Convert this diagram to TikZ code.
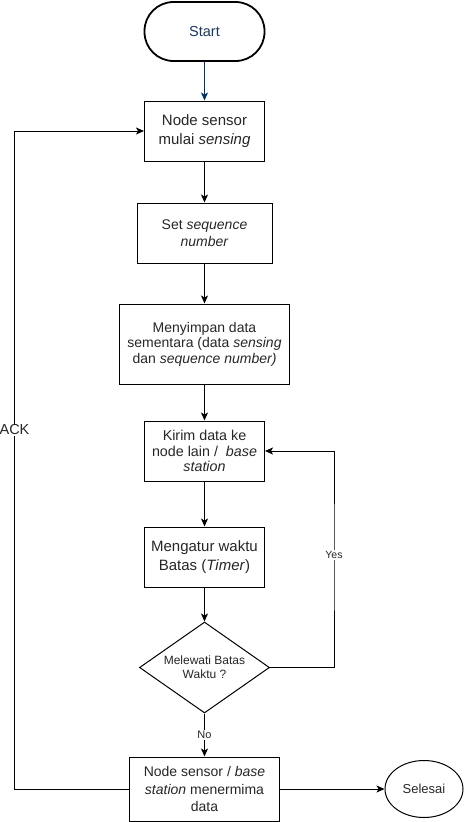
\documentclass[tikz,border=0pt]{standalone}
\usepackage{fontspec}
\setmainfont{Liberation Sans}
\usetikzlibrary{arrows.meta,shapes.geometric}
\definecolor{startnavy}{RGB}{28,54,92}
\definecolor{linknavy}{RGB}{0,51,102}
\begin{document}
\begin{tikzpicture}[x=1pt,y=-1pt,
      stepbox/.style={draw,line width=1pt,text=black!85,align=center,inner sep=2pt,
        font=\fontsize{14}{16}\selectfont},
      link/.style={line width=1pt,-{Stealth[length=8pt,width=7pt,inset=2pt]}},
      tag/.style={fill=white,inner sep=1pt,text=black!85}]
      \useasboundingbox (0,0) rectangle (465,822);
      \path (204.5,31.5) node[draw,line width=1.8pt,rounded corners=29pt,minimum width=120pt,
        minimum height=59pt,text=startnavy,font=\fontsize{14.5}{17}\selectfont] (start) {Start};
      \path (204.5,131) node[stepbox,minimum width=120pt,minimum height=60pt,
        font=\fontsize{15}{18.3}\selectfont] (sense) {Node sensor\\ mulai \textit{sensing}};
      \path (204.5,233) node[stepbox,minimum width=135pt,minimum height=60pt,
        font=\fontsize{14}{16.7}\selectfont] (seqnum) {Set \textit{sequence}\\ \textit{number}};
      \path (204.5,344) node[stepbox,minimum width=170pt,minimum height=80pt,
        font=\fontsize{14}{15.4}\selectfont] (store)
        {Menyimpan data\\ sementara (data \textit{sensing}\\ dan \textit{sequence number)}};
      \path (204.5,451) node[stepbox,minimum width=120pt,minimum height=60pt,
        font=\fontsize{14.3}{15.5}\selectfont] (send)
        {Kirim data ke\\ node lain / \ \textit{base}\\ \textit{station}};
      \path (204.5,557) node[stepbox,minimum width=120pt,minimum height=60pt,
        font=\fontsize{15}{18.3}\selectfont] (timer) {Mengatur waktu\\ Batas (\textit{Timer})};
      \path (204.5,667.5) node[diamond,draw,line width=1pt,aspect=1.43,inner sep=0pt,
        minimum width=130pt,minimum height=91pt,align=center,text=black!85,
        font=\fontsize{12}{14}\selectfont] (timeout) {Melewati Batas\\ Waktu ?};
      \path (204.5,789) node[stepbox,minimum width=150pt,minimum height=64pt,
        font=\fontsize{14}{17.2}\selectfont] (recv)
        {Node sensor / \textit{base}\\ \textit{station} menermima\\ data};
      \path (424,789) node[ellipse,draw,line width=1pt,minimum width=78pt,minimum height=57pt,
        text=black!85,font=\fontsize{13}{15}\selectfont] (finish) {Selesai};
      \coordinate (yes) at (334,555);
      \coordinate (ack) at (14.5,430);
      \draw[link,linknavy] (start) -- (sense);
      \draw[link] (sense) -- (seqnum);
      \draw[link] (seqnum) -- (store);
      \draw[link] (store) -- (send);
      \draw[link] (send) -- (timer);
      \draw[link] (timer) -- (timeout);
      \draw[link] (timeout.east) -| (yes) |- (send.east);
      \draw[link] (timeout) -- node[tag,font=\fontsize{11}{13}\selectfont] {No} (recv);
      \draw[link] (recv) -- (finish);
      \draw[link] (recv.west) -| (ack) |- (sense.west);
      \path (yes) node[tag,font=\fontsize{10.5}{12}\selectfont] {Yes};
      \path (ack) node[tag,font=\fontsize{14.5}{17}\selectfont] {ACK};
     \end{tikzpicture}
\end{document}
